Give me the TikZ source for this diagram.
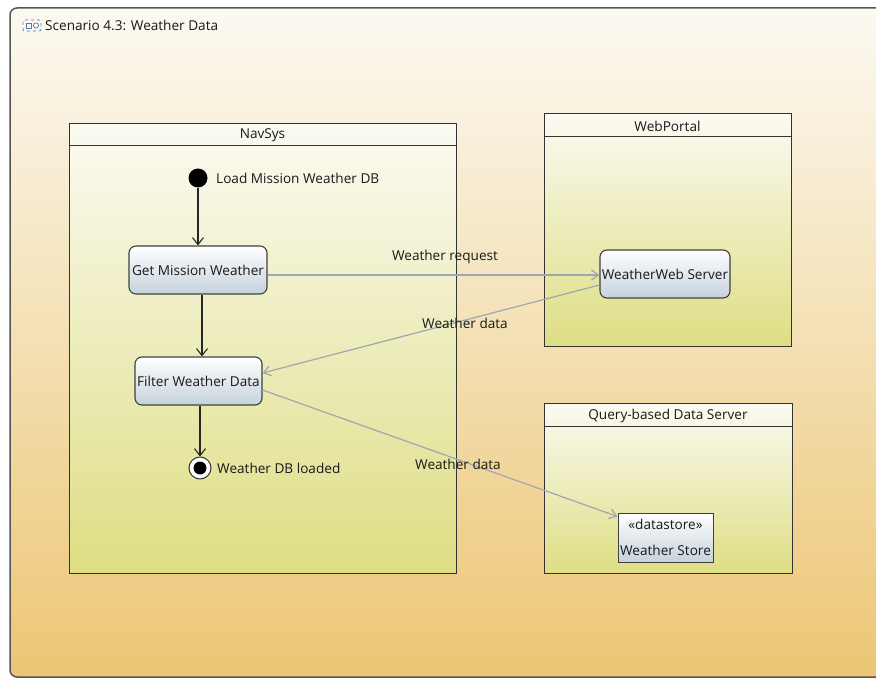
\documentclass[tikz,border=0pt]{standalone}
\usepackage{fontspec}
\setmainfont{Open Sans}
\usetikzlibrary{arrows.meta}
\definecolor{bgtop}{HTML}{FCF9F2}
\definecolor{bgbot}{HTML}{ECC674}
\definecolor{lanetop}{HTML}{FBFAF2}
\definecolor{lanebot}{HTML}{DEDE84}
\definecolor{acttop}{HTML}{FFFFFF}
\definecolor{actbot}{HTML}{C5D2DC}
\definecolor{edgegray}{HTML}{9EA7AF}
\definecolor{framegray}{HTML}{555555}
\definecolor{iconblue}{HTML}{4A7FB8}
\tikzset{
  lane/.style={draw=black!80, line width=1pt, top color=lanetop, bottom color=lanebot, anchor=north west, inner sep=0pt},
  lanetitle/.style={font=\fontsize{13.6}{15}\selectfont, inner sep=0pt, anchor=center, text=black!90},
  action/.style={draw=black!75, line width=1.1pt, rounded corners=7pt, top color=acttop, bottom color=actbot, inner sep=0pt, font=\fontsize{13.6}{15}\selectfont, text=black!90},
  store/.style={draw=black!75, line width=1pt, top color=acttop, bottom color=actbot, inner sep=0pt, align=center, font=\fontsize{13.6}{15}\selectfont, text=black!90},
  flow/.style={-{Straight Barb[length=7pt,width=11pt]}, line width=1.1pt, black!85},
  dataflow/.style={-{Straight Barb[length=7pt,width=10pt]}, line width=1.2pt, edgegray},
  lbl/.style={font=\fontsize{13.6}{15}\selectfont, inner sep=0pt, text=black!90},
}
\begin{document}
\begin{tikzpicture}[x=1pt,y=-1pt]
\useasboundingbox (0,0) rectangle (876,679);
\fill[white] (0,0) rectangle (876,679);
% outer frame
\path[draw=framegray, line width=1.5pt, rounded corners=7pt, top color=bgtop, bottom color=bgbot] (10,8) rectangle (895,677);
% title icon
\draw[iconblue, dashed, line width=0.7pt, rounded corners=2pt] (23,20) rectangle (41,31);
\draw[iconblue, line width=0.7pt] (26,23) rectangle (31,28);
\draw[iconblue, line width=0.7pt] (36,25.5) circle (2.6);
\node[lbl, anchor=west] (title) at (45,25.5) {Scenario 4.3: Weather Data};
% lanes
\node[lane, minimum width=387pt, minimum height=450pt] (navsys) at (69,123) {};
\draw[black!80, line width=1pt] (navsys.north west) ++(0,23) -- ++(387,0);
\node[lanetitle] (navsysT) at (262.5,135) {NavSys};
\node[lane, minimum width=247pt, minimum height=233pt] (webportal) at (544,113) {};
\draw[black!80, line width=1pt] (webportal.north west) ++(0,24) -- ++(247,0);
\node[lanetitle] (webportalT) at (667.5,126) {WebPortal};
\node[lane, minimum width=248pt, minimum height=170pt] (qserver) at (544,403) {};
\draw[black!80, line width=1pt] (qserver.north west) ++(0,23) -- ++(248,0);
\node[lanetitle] (qserverT) at (668,416) {Query-based Data Server};
% initial / final
\node[circle, fill=black, minimum size=19pt, inner sep=0pt] (init) at (198,178) {};
\node[lbl, anchor=west] (initL) at (216,178) {Load Mission Weather DB};
\node[circle, draw=black!80, line width=1pt, fill=white, minimum size=22pt, inner sep=0pt] (final) at (200,468) {};
\node[circle, fill=black, minimum size=13pt, inner sep=0pt] (finalIn) at (final) {};
\node[lbl, anchor=west] (finalL) at (217,468) {Weather DB loaded};
% actions
\node[action, minimum width=138pt, minimum height=48pt] (get) at (198,270) {Get Mission Weather};
\node[action, minimum width=127pt, minimum height=48pt] (filter) at (198.5,381) {Filter Weather Data};
\node[action, minimum width=130pt, minimum height=48pt] (web) at (665,274) {WeatherWeb Server};
\node[store, minimum width=95pt, minimum height=49pt] (store) at (665.5,537.5) {«datastore»\\[11pt]Weather Store};
% control flow
\draw[flow] (init) -- (get.north);
\draw[flow] ([xshift=4pt]get.south) -- ([xshift=4pt]get.south |- filter.north);
\draw[flow] ([xshift=1.5pt]filter.south) -- (final.north);
% data flows
\draw[dataflow] ([yshift=-5pt]get.east) -- ([yshift=-1pt]web.west);
\draw[dataflow] ([yshift=-11pt]web.west) -- ([yshift=8pt]filter.east);
\draw[dataflow] ([yshift=-9pt]filter.east) -- ([yshift=21pt]store.west);
% labels
\node[lbl] (reqL) at (445,257) {Weather request};
\node[lbl] (dataL1) at (465,323) {Weather data};
\node[lbl] (dataL2) at (458,464) {Weather data};
\end{tikzpicture}
\end{document}
